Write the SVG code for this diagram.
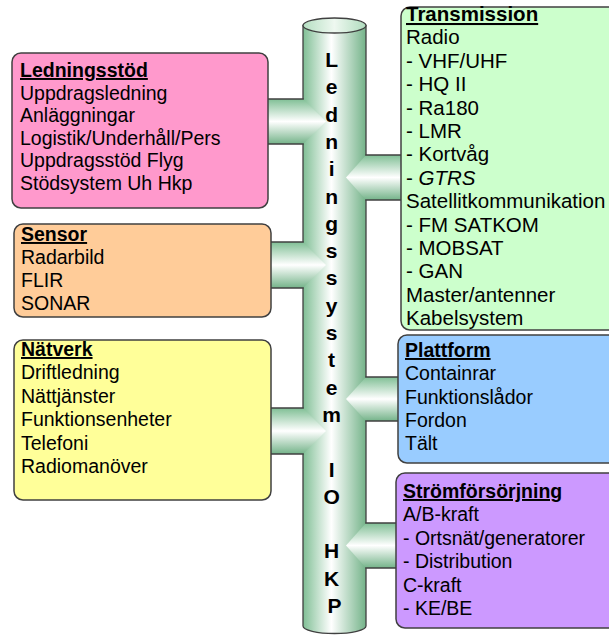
<svg xmlns="http://www.w3.org/2000/svg" width="609" height="637" viewBox="0 0 609 637">
<defs>
<linearGradient id="cylG" gradientUnits="userSpaceOnUse" x1="303" y1="0" x2="366" y2="0">
<stop offset="0" stop-color="#80bf95"/>
<stop offset="0.45" stop-color="#ffffff"/>
<stop offset="1" stop-color="#74b389"/>
</linearGradient>
<linearGradient id="topG" x1="0" y1="0" x2="1" y2="0">
<stop offset="0" stop-color="#b5dfc2"/>
<stop offset="0.5" stop-color="#eef8f0"/>
<stop offset="1" stop-color="#b0dcbe"/>
</linearGradient>
<linearGradient id="brG" x1="0" y1="0" x2="0" y2="1">
<stop offset="0" stop-color="#80bf95"/>
<stop offset="0.5" stop-color="#ffffff"/>
<stop offset="1" stop-color="#74b389"/>
</linearGradient>
<style>
.box{stroke:#404040;stroke-width:1.5}
.pipe{fill:url(#brG);stroke:none}
.edge{stroke:#404040;stroke-width:1.3;fill:none}
.t{font-family:"Liberation Sans",Arial,sans-serif;font-size:19.5px;fill:#000}
.tr{font-family:"Liberation Sans",Arial,sans-serif;font-size:20.5px;fill:#000}
.h{font-weight:bold;text-decoration:underline}
.v{font-family:"Liberation Sans",Arial,sans-serif;font-size:21px;font-weight:bold;fill:#000}
</style>
</defs>

<g id="cylinder">
<path d="M303,25.5 L303,626 A31.5,7.5 0 0 0 366,626 L366,25.5 Z" fill="url(#cylG)" stroke="#404040" stroke-width="1.3"/>
<ellipse cx="334.5" cy="25.5" rx="31.5" ry="7.5" fill="url(#topG)" stroke="#404040" stroke-width="1.3"/>
</g>

<g id="connectors">
<polygon class="pipe" points="266,99 303,99 326,121.5 303,144 266,144"/>
<path class="edge" d="M266,99 H303.6 M266,144 H303.6"/>
<polygon class="pipe" points="270,242 303,242 326,265 303,288 270,288"/>
<path class="edge" d="M270,242 H303.6 M270,288 H303.6"/>
<polygon class="pipe" points="270,408 303,408 326,431 303,454 270,454"/>
<path class="edge" d="M270,408 H303.6 M270,454 H303.6"/>
<polygon class="pipe" points="402,155 366,155 346,177.5 366,200 402,200"/>
<path class="edge" d="M402,155 H365.4 M402,200 H365.4"/>
<polygon class="pipe" points="400,377 366,377 346,399 366,421 400,421"/>
<path class="edge" d="M400,377 H365.4 M400,421 H365.4"/>
<polygon class="pipe" points="398,523 366,523 346,545.5 366,568 398,568"/>
<path class="edge" d="M398,523 H365.4 M398,568 H365.4"/>
</g>

<g id="title">
<text class="v" text-anchor="middle">
<tspan x="334.5" y="67">L</tspan>
<tspan x="334.5" y="94.3">e</tspan>
<tspan x="334.5" y="121.6">d</tspan>
<tspan x="334.5" y="148.9">n</tspan>
<tspan x="334.5" y="176.2">i</tspan>
<tspan x="334.5" y="203.5">n</tspan>
<tspan x="334.5" y="230.8">g</tspan>
<tspan x="334.5" y="258.1">s</tspan>
<tspan x="334.5" y="285.4">s</tspan>
<tspan x="334.5" y="312.7">y</tspan>
<tspan x="334.5" y="340">s</tspan>
<tspan x="334.5" y="367.3">t</tspan>
<tspan x="334.5" y="394.6">e</tspan>
<tspan x="334.5" y="421.9">m</tspan>
<tspan x="334.5" y="476.5">I</tspan>
<tspan x="334.5" y="503.8">O</tspan>
<tspan x="334.5" y="558.4">H</tspan>
<tspan x="334.5" y="585.7">K</tspan>
<tspan x="334.5" y="613">P</tspan>
</text>
</g>

<g id="ledningsstod">
<rect class="box" x="12" y="53" width="256" height="155" rx="9" fill="#ff99cc"/>
<text class="t" x="20">
<tspan x="20" y="77" class="h">Ledningsstöd</tspan>
<tspan x="20" y="99.6">Uppdragsledning</tspan>
<tspan x="20" y="122.2">Anläggningar</tspan>
<tspan x="20" y="144.8">Logistik/Underhåll/Pers</tspan>
<tspan x="20" y="167.4">Uppdragsstöd Flyg</tspan>
<tspan x="20" y="190">Stödsystem Uh Hkp</tspan>
</text>
</g>

<g id="sensor">
<rect class="box" x="14" y="224" width="257" height="93" rx="9" fill="#ffcc99"/>
<text class="t">
<tspan x="21" y="241" class="h">Sensor</tspan>
<tspan x="21" y="264">Radarbild</tspan>
<tspan x="21" y="287">FLIR</tspan>
<tspan x="21" y="310">SONAR</tspan>
</text>
</g>

<g id="natverk">
<rect class="box" x="14" y="340" width="257" height="160" rx="9" fill="#ffff99"/>
<text class="t">
<tspan x="21" y="356" class="h">Nätverk</tspan>
<tspan x="21" y="379.4">Driftledning</tspan>
<tspan x="21" y="402.8">Nättjänster</tspan>
<tspan x="21" y="426.2">Funktionsenheter</tspan>
<tspan x="21" y="449.6">Telefoni</tspan>
<tspan x="21" y="473">Radiomanöver</tspan>
</text>
</g>

<g id="transmission">
<rect class="box" x="401" y="7" width="220" height="323" rx="9" fill="#ccffcc"/>
<text class="tr">
<tspan x="406" y="21" class="h">Transmission</tspan>
<tspan x="406" y="44.4">Radio</tspan>
<tspan x="406" y="67.8">- VHF/UHF</tspan>
<tspan x="406" y="91.2">- HQ II</tspan>
<tspan x="406" y="114.6">- Ra180</tspan>
<tspan x="406" y="138">- LMR</tspan>
<tspan x="406" y="161.4">- Kortvåg</tspan>
<tspan x="406" y="184.8">- <tspan font-style="italic">GTRS</tspan></tspan>
<tspan x="406" y="208.2">Satellitkommunikation</tspan>
<tspan x="406" y="231.6">- FM SATKOM</tspan>
<tspan x="406" y="255">- MOBSAT</tspan>
<tspan x="406" y="278.4">- GAN</tspan>
<tspan x="406" y="301.8">Master/antenner</tspan>
<tspan x="406" y="325.2">Kabelsystem</tspan>
</text>
</g>

<g id="plattform">
<rect class="box" x="398" y="335" width="222" height="128" rx="9" fill="#99ccff"/>
<text class="t">
<tspan x="405" y="357" class="h">Plattform</tspan>
<tspan x="405" y="380.3">Containrar</tspan>
<tspan x="405" y="403.6">Funktionslådor</tspan>
<tspan x="405" y="426.9">Fordon</tspan>
<tspan x="405" y="450.2">Tält</tspan>
</text>
</g>

<g id="stromforsorjning">
<rect class="box" x="396" y="473" width="224" height="155" rx="9" fill="#cc99ff"/>
<text class="t">
<tspan x="403" y="498" class="h">Strömförsörjning</tspan>
<tspan x="403" y="521.4">A/B-kraft</tspan>
<tspan x="403" y="544.8">- Ortsnät/generatorer</tspan>
<tspan x="403" y="568.2">- Distribution</tspan>
<tspan x="403" y="591.6">C-kraft</tspan>
<tspan x="403" y="615">- KE/BE</tspan>
</text>
</g>
</svg>
